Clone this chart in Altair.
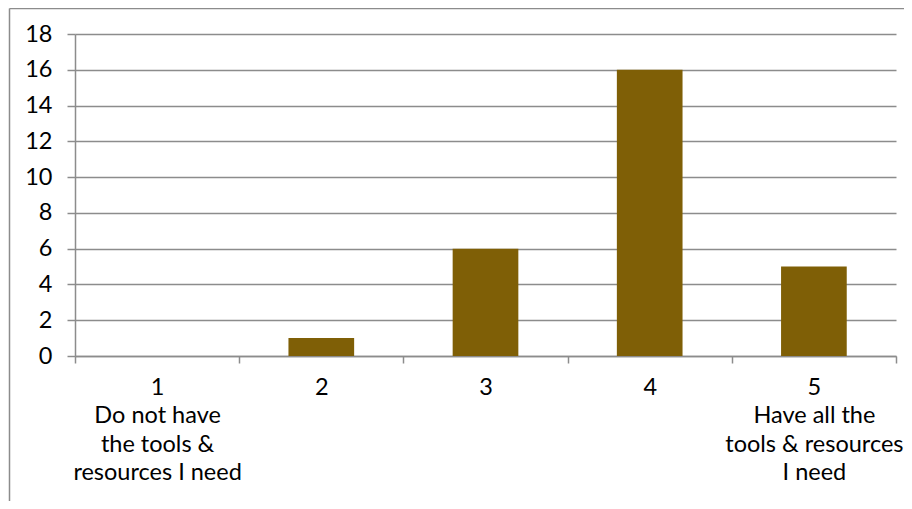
import altair as alt
import pandas as pd

categories = ["1", "2", "3", "4", "5"]
labels = [
    "1|Do not have|the tools &|resources I need",
    "2",
    "3",
    "4",
    "5|Have all the|tools & resources|I need",
]
counts = [0, 1, 6, 16, 5]

df = pd.DataFrame({"cat": labels, "count": counts})

FONT = "Lato"
GRID = "#8c8c8c"

bars = alt.Chart(df).mark_bar(color="#7f5f06", width=alt.RelativeBandSize(0.4)).encode(
    x=alt.X(
        "cat:N",
        sort=labels,
        title=None,
        scale=alt.Scale(paddingInner=0, paddingOuter=0),
        axis=alt.Axis(
            labelExpr="split(datum.label, '|')",
            labelAngle=0,
            labelAlign="center",
            labelBaseline="top",
            labelLineHeight=28.5,
            labelPadding=12,
            labelFont=FONT,
            labelFontSize=23.5,
            labelColor="#000000",
            tickBand="extent",
            tickSize=7,
            tickColor=GRID,
            tickWidth=1.5,
            domainColor=GRID,
            domainWidth=1.5,
            grid=False,
        ),
    ),
    y=alt.Y(
        "count:Q",
        title=None,
        scale=alt.Scale(domain=[0, 18], nice=False),
        axis=alt.Axis(
            values=list(range(0, 19, 2)),
            labelFont=FONT,
            labelFontSize=23.5,
            labelColor="#000000",
            labelPadding=15,
            tickSize=8,
            tickColor=GRID,
            tickWidth=1.5,
            domainColor=GRID,
            domainWidth=1.5,
            grid=True,
            gridColor=GRID,
            gridWidth=1.5,
        ),
    ),
)

frame_v = alt.Chart(pd.DataFrame({"a": [0]})).mark_rule(color="#8c8c8c", strokeWidth=1.5).encode(
    x=alt.value(-65.5), y=alt.value(-25.5), y2=alt.value(520)
)
frame_h = alt.Chart(pd.DataFrame({"a": [0]})).mark_rule(color="#8c8c8c", strokeWidth=1.5).encode(
    x=alt.value(-65.5), x2=alt.value(900), y=alt.value(-25.5)
)

chart = (
    alt.layer(frame_v, frame_h, bars)
    .properties(
        width=821,
        height=322,
        autosize=alt.AutoSizeParams(type="none"),
        padding={"left": 67, "top": 26, "right": 8, "bottom": 145},
    )
    .configure_view(stroke=None)
)

chart.save("out.html", embed_options={"renderer": "svg", "actions": False})
